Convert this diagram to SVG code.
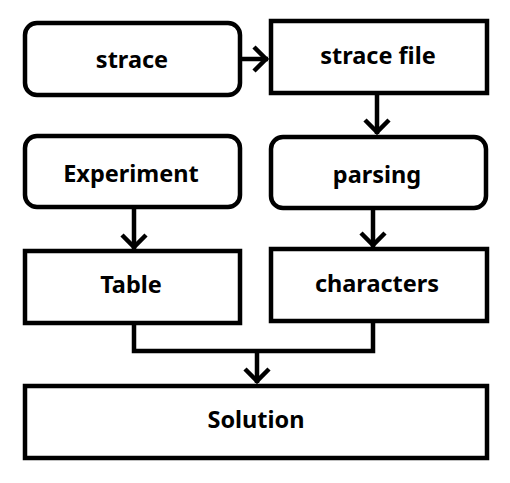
<svg xmlns="http://www.w3.org/2000/svg" width="510" height="483" viewBox="0 0 510 483">
<defs>
<style>
.box{fill:#fff;stroke:#000;stroke-width:4.5}
.lbl{font-family:"Noto Sans","Open Sans","DejaVu Sans",sans-serif;font-weight:bold;font-size:23.5px;text-anchor:middle;fill:#000}
.con{fill:none;stroke:#000;stroke-width:4.5}
</style>
<marker id="ah" markerUnits="userSpaceOnUse" markerWidth="30" markerHeight="30" viewBox="0 0 30 30" refX="17" refY="15" orient="auto">
<path d="M3,3 L15,15 L3,27" fill="none" stroke="#000" stroke-width="4.5" stroke-linejoin="miter"/>
</marker>
</defs>
<rect width="510" height="483" fill="#fff"/>
<g id="connectors">
<line class="con" x1="240" y1="59" x2="268" y2="59" marker-end="url(#ah)"/>
<line class="con" x1="377" y1="93" x2="377" y2="134" marker-end="url(#ah)"/>
<line class="con" x1="134" y1="208" x2="134" y2="249" marker-end="url(#ah)"/>
<line class="con" x1="373" y1="209" x2="373" y2="247" marker-end="url(#ah)"/>
<polyline class="con" points="134,323 134,351 373,351 373,321"/>
<line class="con" x1="257" y1="351" x2="257" y2="383" marker-end="url(#ah)"/>
</g>
<g id="n-strace"><rect class="box" x="25" y="23" width="215" height="72" rx="12"/><text class="lbl" x="132" y="68">strace</text></g>
<g id="n-stracefile"><rect class="box" x="271" y="21" width="216" height="72"/><text class="lbl" x="378" y="64">strace file</text></g>
<g id="n-experiment"><rect class="box" x="25" y="136" width="215" height="71" rx="12"/><text class="lbl" x="131" y="182">Experiment</text></g>
<g id="n-parsing"><rect class="box" x="271" y="137" width="215" height="71" rx="12"/><text class="lbl" x="377" y="183">parsing</text></g>
<g id="n-table"><rect class="box" x="25" y="251" width="215" height="72"/><text class="lbl" x="131" y="293">Table</text></g>
<g id="n-characters"><rect class="box" x="271" y="249" width="216" height="72"/><text class="lbl" x="377" y="292">characters</text></g>
<g id="n-solution"><rect class="box" x="25" y="386" width="462" height="72"/><text class="lbl" x="256" y="428">Solution</text></g>
</svg>
